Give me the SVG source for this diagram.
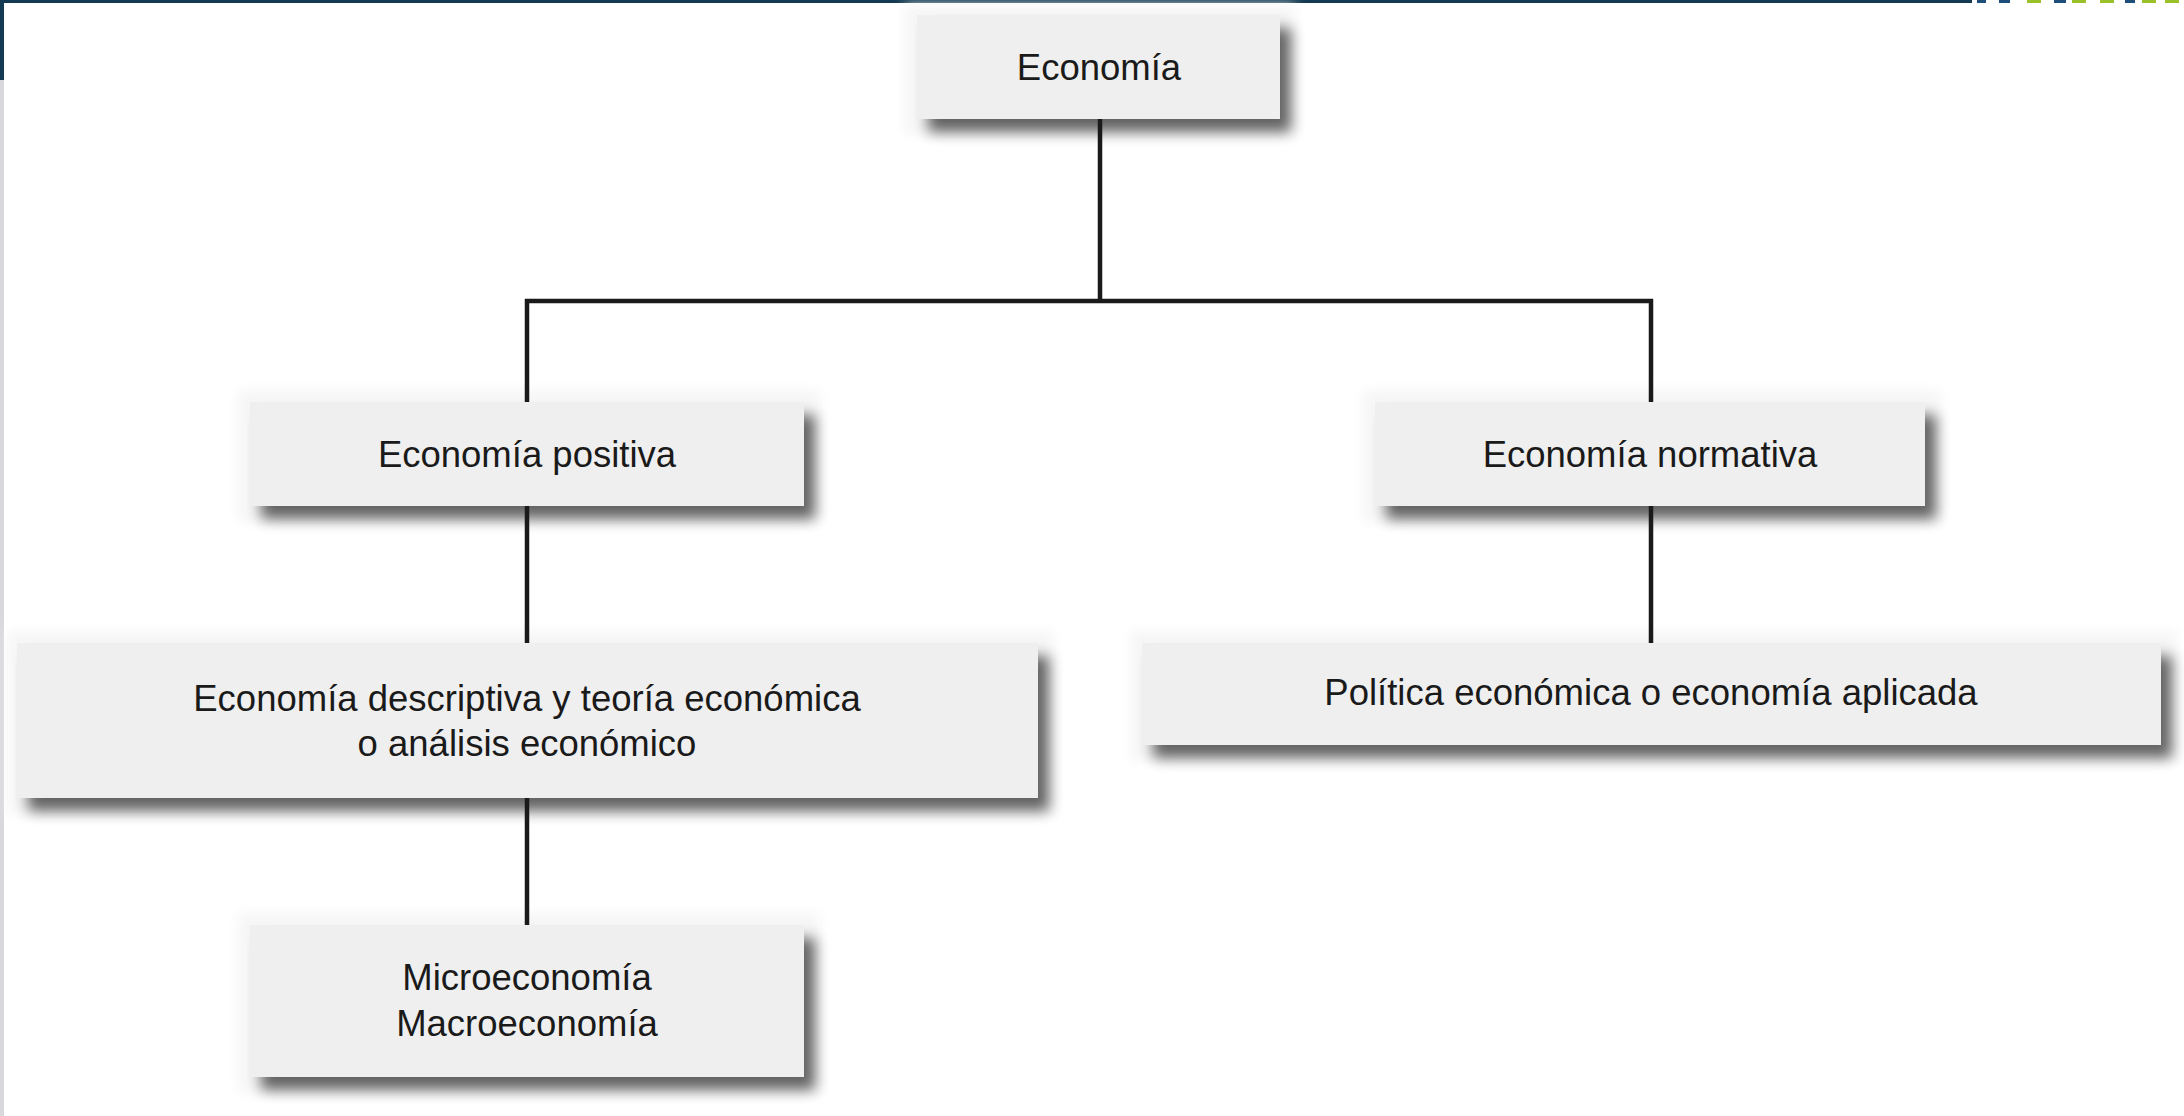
<svg xmlns="http://www.w3.org/2000/svg" width="2184" height="1116" viewBox="0 0 2184 1116">
<defs>
<filter id="sh" x="-10%" y="-30%" width="125%" height="170%">
<feGaussianBlur in="SourceAlpha" stdDeviation="7"/>
<feOffset dx="11" dy="13" result="b"/>
<feComponentTransfer><feFuncA type="linear" slope="0.6"/></feComponentTransfer>
<feMerge><feMergeNode/><feMergeNode in="SourceGraphic"/></feMerge>
</filter>
<filter id="hb" x="-10%" y="-30%" width="120%" height="160%">
<feGaussianBlur stdDeviation="6"/>
</filter>
</defs>
<style>
.halo{fill:#f6f6f6;filter:url(#hb)}
.box{fill:#efefef;filter:url(#sh)}
.t{font-family:"Liberation Sans",Arial,sans-serif;font-size:36.5px;fill:#1a1a1a;text-anchor:middle}
.ln{fill:none;stroke:#1a1a1a;stroke-width:4.5}
</style>
<rect width="2184" height="1116" fill="#ffffff"/>
<g id="frame">
<rect x="0" y="0" width="1972" height="3" fill="#133a52"/>
<rect x="1977" y="0" width="9" height="3" fill="#1d4f7a"/>
<rect x="1999" y="0" width="11" height="3" fill="#1d4f7a"/>
<rect x="2027" y="0" width="14" height="3" fill="#9bc02a"/>
<rect x="2054" y="0" width="12" height="3" fill="#1d4f7a"/>
<rect x="2072" y="0" width="14" height="3" fill="#9bc02a"/>
<rect x="2100" y="0" width="14" height="3" fill="#9bc02a"/>
<rect x="2125" y="0" width="10" height="3" fill="#1d4f7a"/>
<rect x="2142" y="0" width="14" height="3" fill="#9bc02a"/>
<rect x="2165" y="0" width="14" height="3" fill="#9bc02a"/>
<rect x="0" y="0" width="4" height="80" fill="#133a52"/>
<rect x="0" y="80" width="4" height="1036" fill="#d8d8dd"/>
</g>
<g id="n-economia">
<rect class="halo" x="905" y="5" width="390" height="130"/>
<rect class="box" x="917" y="15" width="363" height="104"/>
<text class="t" x="1099" y="80">Economía</text>
</g>
<g id="n-positiva">
<rect class="halo" x="238" y="390" width="582" height="132"/>
<rect class="box" x="250" y="402" width="554" height="104"/>
<text class="t" x="527" y="467">Economía positiva</text>
</g>
<g id="n-normativa">
<rect class="halo" x="1363" y="390" width="578" height="132"/>
<rect class="box" x="1375" y="402" width="550" height="104"/>
<text class="t" x="1650" y="467">Economía normativa</text>
</g>
<g id="n-descriptiva">
<rect class="halo" x="8" y="631" width="1046" height="184"/>
<rect class="box" x="17" y="643" width="1021" height="155"/>
<text class="t" x="527" y="711">Economía descriptiva y teoría económica</text>
<text class="t" x="527" y="756">o análisis económico</text>
</g>
<g id="n-politica">
<rect class="halo" x="1130" y="631" width="1047" height="130"/>
<rect class="box" x="1142" y="643" width="1019" height="102"/>
<text class="t" x="1651" y="705">Política económica o economía aplicada</text>
</g>
<g id="n-micro">
<rect class="halo" x="238" y="913" width="582" height="180"/>
<rect class="box" x="250" y="925" width="554" height="152"/>
<text class="t" x="527" y="990">Microeconomía</text>
<text class="t" x="527" y="1036">Macroeconomía</text>
</g>
<g id="connectors">
<path class="ln" d="M527,402 V301 H1651 V402"/>
<line class="ln" x1="1100" y1="119" x2="1100" y2="301"/>
<line class="ln" x1="527" y1="506" x2="527" y2="643"/>
<line class="ln" x1="1651" y1="506" x2="1651" y2="643"/>
<line class="ln" x1="527" y1="798" x2="527" y2="925"/>
</g>
</svg>
